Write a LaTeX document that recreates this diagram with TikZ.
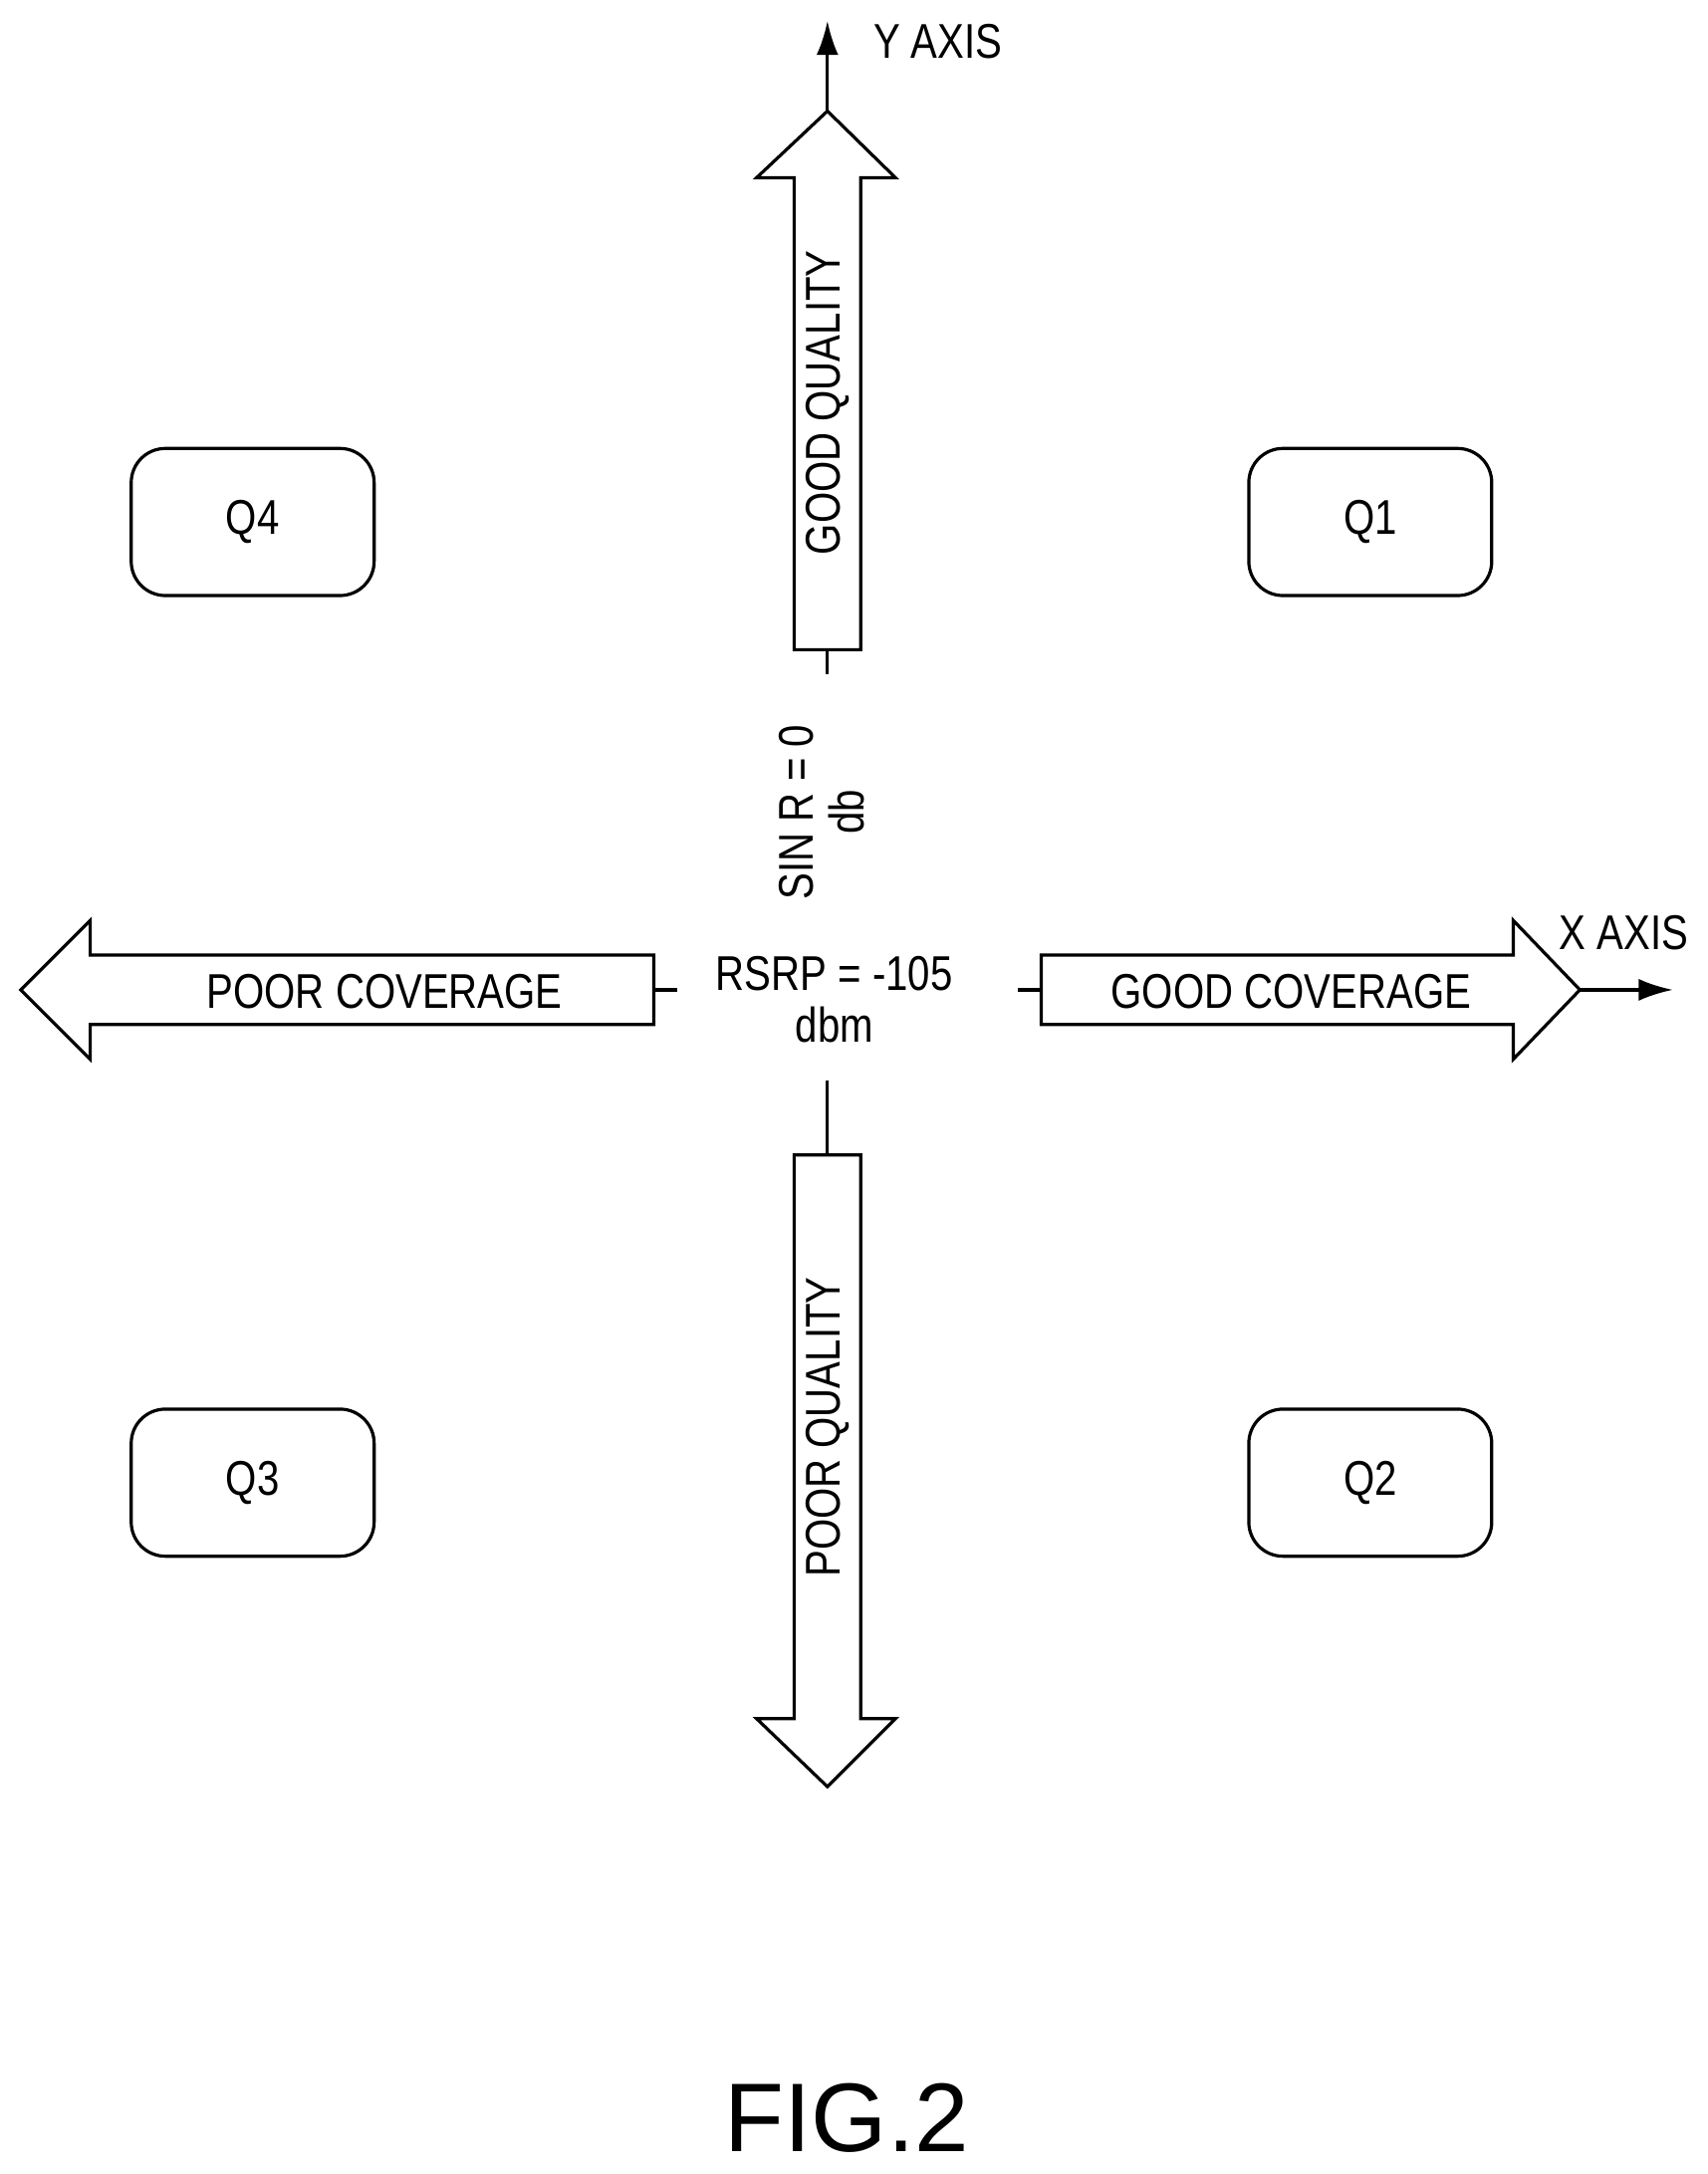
\documentclass[tikz,border=0pt]{standalone}
\usepackage{fontspec}
\setmainfont[FakeStretch=0.82]{Liberation Sans}
\newfontfamily\figfont{Liberation Sans}
\usetikzlibrary{arrows.meta,positioning}

\begin{document}
\begin{tikzpicture}[x=0.02cm,y=-0.02cm,line width=1.3pt,
  quad/.style={draw, rounded corners=14pt, minimum width=3.5cm, minimum height=2.12cm, font=\fontsize{20}{22}\selectfont},
  lbl/.style={font=\fontsize{20}{21}\selectfont, align=center, inner sep=0pt},
  axis/.style={-{Latex[length=14pt,width=9pt]}}]
\useasboundingbox (0,0) rectangle (1230,1566);
% quadrant boxes
\node[quad] (q4) at (182,376) {Q4};
\node[quad] (q1) at (987,376) {Q1};
\node[quad] (q3) at (182,1068) {Q3};
\node[quad] (q2) at (987,1068) {Q2};
% block arrows
\draw (572,468) -- (572,128) -- (545,128) -- (596,80) -- (645,128) -- (620,128) -- (620,468) -- cycle;
\draw (572,832) -- (572,1238) -- (545,1238) -- (596,1287) -- (645,1238) -- (620,1238) -- (620,832) -- cycle;
\draw (471,688) -- (65,688) -- (65,663) -- (15,713) -- (65,763) -- (65,738) -- (471,738) -- cycle;
\draw (750,688) -- (1090,688) -- (1090,663) -- (1138,713) -- (1090,763) -- (1090,738) -- (750,738) -- cycle;
% axes and ticks
\coordinate (ytop) at (596,80);
\coordinate (yend) at (596,15);
\coordinate (xtip) at (1138,713);
\coordinate (xend) at (1205,713);
\draw[axis] (ytop) -- (yend);
\draw[axis] (xtip) -- (xend);
\draw (596,468) -- (596,486);
\draw (596,778) -- (596,832);
\draw (471,713) -- (488,713);
\draw (733,713) -- (750,713);
% labels
\node[lbl, anchor=west] (ylab) at (628,30) {Y AXIS};
\node[lbl, anchor=west] (xlab) at (1122,672) {X AXIS};
\node[lbl, rotate=90] (good q) at (596,290) {GOOD QUALITY};
\node[lbl, rotate=90] (poor q) at (596,1028) {POOR QUALITY};
\node[lbl] (poor c) at (277,714) {POOR COVERAGE};
\node[lbl] (good c) at (930,714) {GOOD COVERAGE};
\node[lbl, rotate=90] (sinr) at (592,585) {SIN R = 0\\db};
\node[lbl] (rsrp) at (601,720) {RSRP = -105\\dbm};
\node[font=\figfont\fontsize{40}{42}\selectfont, inner sep=0pt] (fig) at (610,1526) {FIG.2};
\end{tikzpicture}
\end{document}
